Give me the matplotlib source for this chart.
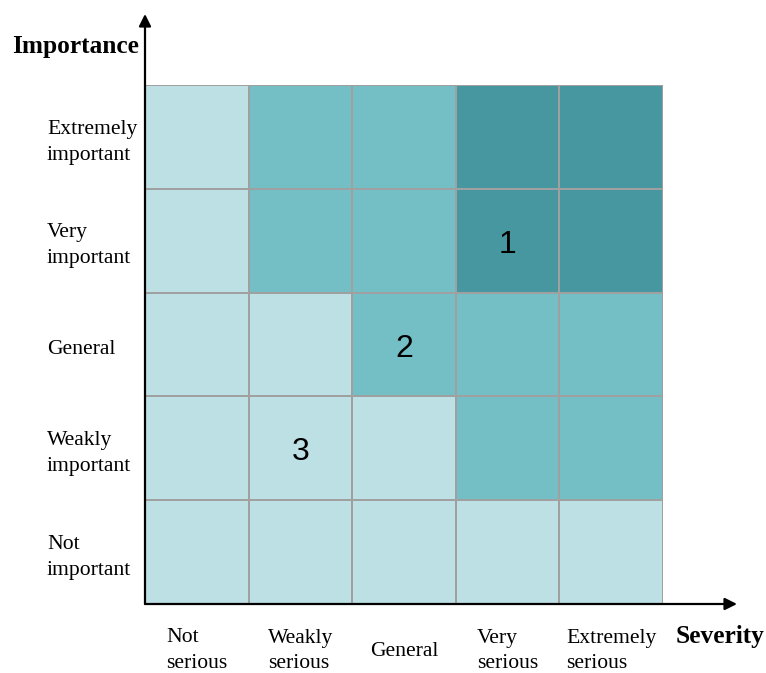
import matplotlib
matplotlib.use("Agg")
import matplotlib.pyplot as plt
from matplotlib.colors import ListedColormap
import numpy as np

severity = ["Not\nserious", "Weakly\nserious", "General", "Very\nserious", "Extremely\nserious"]
importance = ["Not\nimportant", "Weakly\nimportant", "General", "Very\nimportant", "Extremely\nimportant"]
# risk level per cell: rows = importance (bottom to top), cols = severity
levels = [
    [0, 0, 0, 0, 0],
    [0, 0, 0, 1, 1],
    [0, 0, 1, 1, 1],
    [0, 1, 1, 2, 2],
    [0, 1, 1, 2, 2],
]
markers = [("1", 3, 3), ("2", 2, 2), ("3", 1, 1)]  # label, severity idx, importance idx
colors = ["#bce0e3", "#74bec6", "#46979f"]

fig = plt.figure(figsize=(7.66, 6.73), dpi=100)
W, H = 766, 673
x0, x1, y0, y1 = 145, 663, 604, 85
ax = fig.add_axes([x0 / W, 1 - y0 / H, (x1 - x0) / W, (y0 - y1) / H])
cmap = ListedColormap(colors)
ax.pcolormesh(np.arange(6), np.arange(6), np.array(levels), cmap=cmap, vmin=-0.5, vmax=2.5,
              edgecolors="#a0a0a0", linewidth=1.3)
ax.set_xlim(0, 5)
ax.set_ylim(0, 5)
ax.axis("off")

sx = (x1 - x0) / 5.0
sy = (y0 - y1) / 5.0
def dx(px):
    return (px - x0) / sx
def dy(py):
    return (y0 - py) / sy

# axes arrows
arrow = dict(arrowstyle="-|>", color="black", lw=1.6, mutation_scale=18, shrinkA=0, shrinkB=0)
ax.annotate("", xy=(0, dy(14)), xytext=(0, 0), arrowprops=arrow, annotation_clip=False)
ax.annotate("", xy=(dx(737), 0), xytext=(0, 0), arrowprops=arrow, annotation_clip=False)

serif = ["Liberation Serif", "DejaVu Serif"]
for i, lab in enumerate(importance):
    ax.text(dx(47), i + 0.45, lab, ha="left", va="center", fontsize=15.6, family=serif,
            linespacing=1.5, clip_on=False)
for j, lab in enumerate(severity):
    ax.text(j + 0.5, dy(651), lab, ha="center", va="center", fontsize=15.6, family=serif,
            multialignment="left", linespacing=1.5, clip_on=False)

ax.text(dx(139), dy(47), "Importance", ha="right", va="center", fontsize=18.3, fontweight="bold",
        family=serif, clip_on=False)
ax.text(dx(676), dy(637), "Severity", ha="left", va="center", fontsize=18.3, fontweight="bold",
        family=serif, clip_on=False)

for lab, c, r in markers:
    ax.text(c + 0.5, r + 0.46, lab, ha="center", va="center", fontsize=23,
            family=["Liberation Sans", "DejaVu Sans"])

fig.savefig("out.png", dpi=100, facecolor="white")
